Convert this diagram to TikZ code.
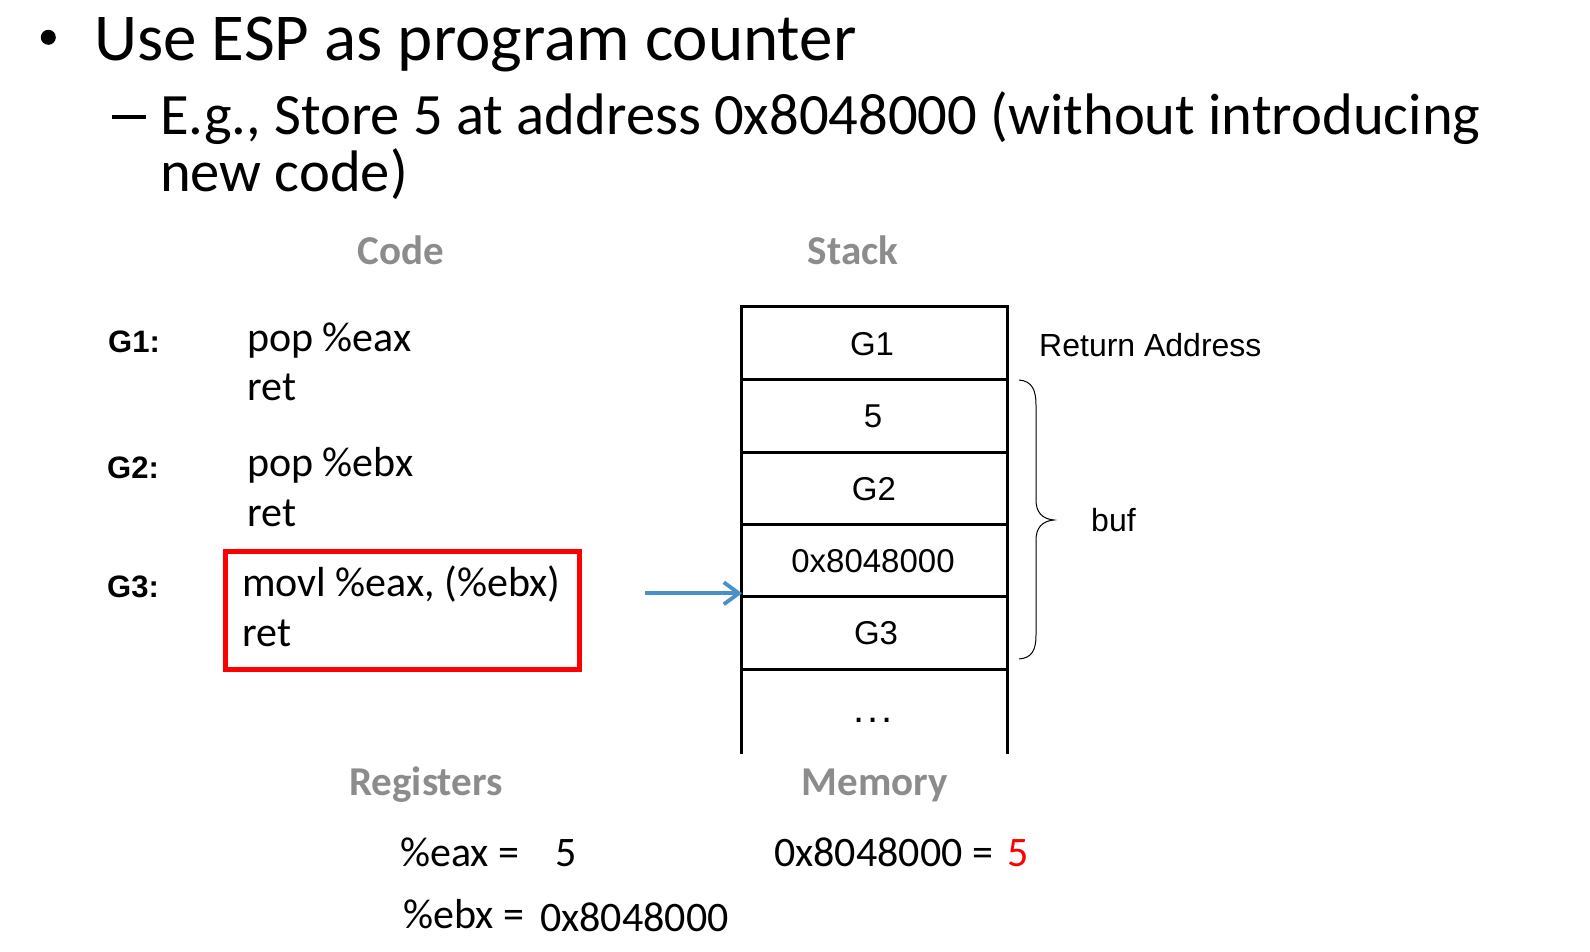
\documentclass[tikz,border=0pt]{standalone}
\usepackage{fontspec}
\setmainfont{Carlito}
\newfontfamily\hv{Liberation Sans}
\usetikzlibrary{arrows.meta}
\definecolor{hdrgray}{RGB}{140,140,140}
\definecolor{arrowblue}{RGB}{74,143,201}
\definecolor{boxred}{RGB}{255,0,0}
\newcommand{\fs}[1]{\fontsize{#1}{#1}\selectfont}
\begin{document}
\begin{tikzpicture}[x=1pt,y=-1pt,
  txt/.style={inner sep=0pt, anchor=base west},
  title/.style={txt, font=\fs{67}},
  sub/.style={txt, font=\fs{58.6}},
  hdr/.style={inner sep=0pt, anchor=base, font=\bfseries\fs{41}, text=hdrgray},
  code/.style={txt, font=\fs{42}},
  glabel/.style={inner sep=0pt, anchor=west, font=\hv\bfseries\fs{31}},
  cell/.style={inner sep=0pt, anchor=center, font=\hv\fs{33}},
  note/.style={inner sep=0pt, anchor=west, font=\hv\fs{32}},
  reg/.style={txt, font=\fs{42}},
  stackline/.style={line width=2.8pt},
]
\useasboundingbox (0,0) rectangle (1590,952);

% bullet and title lines
\node[circle, fill=black, inner sep=0pt, minimum size=15pt] (bullet) at (48.3,37.3) {};
\node[title] (t1) at (94,61) {Use ESP as program counter};
\node[txt] (dash) at (111.7,135) {\rule[16pt]{34pt}{4pt}};
\node[sub] (t2) at (160,135) {E.g., Store 5 at address 0x8048000 (without introducing};
\node[sub] (t3) at (160,191.7) {new code)};

% headers
\node[hdr] (hcode) at (401,265) {Code};
\node[hdr] (hstack) at (853,265) {Stack};
\node[hdr] (hreg) at (426,795) {Registers};
\node[hdr] (hmem) at (875,795) {Memory};

% code
\node[glabel] (g1) at (108,341.7) {G1:};
\node[glabel] (g2) at (107,468) {G2:};
\node[glabel] (g3) at (107,586.7) {G3:};
\node[code] (c1) at (247,351.7) {pop \%eax};
\node[code] (c2) at (247,400) {ret};
\node[code] (c3) at (247,476.7) {pop \%ebx};
\node[code] (c4) at (247,526.7) {ret};
\node[code] (c5) at (242,596.7) {movl \%eax, (\%ebx)};
\node[code] (c6) at (242,646.7) {ret};
\draw[boxred, line width=5pt] (225.5,551) rectangle (579,669);

% stack
\draw[stackline] (741.7,754) -- (741.7,306.7) -- (1007.3,306.7) -- (1007.3,754);
\foreach \yy in {379.3,452.3,524.7,596.7,669.3}
  \draw[stackline] (741.7,\yy) -- (1007.3,\yy);
\node[cell] (s1) at (872,344) {G1};
\node[cell] (s2) at (873,416.5) {5};
\node[cell] (s3) at (874,489) {G2};
\node[cell] (s4) at (873,561) {0x8048000};
\node[cell] (s5) at (876,633) {G3};
\node[inner sep=0pt, anchor=base, font=\hv\fs{40}] (s6) at (873,722) {.\hspace{3pt}.\hspace{3pt}.};

% esp arrow
\coordinate (espfrom) at (645,593.3);
\coordinate (espto) at (742,593.3);
\draw[arrowblue, line width=3.8pt, -{Straight Barb[length=15pt,width=22pt,line width=3.8pt]}] (espfrom) -- (espto);

% notes
\node[note] (ra) at (1039,345) {Return Address};
\node[note] (buf) at (1091,520) {buf};
\draw[line width=1pt] (1019,380) .. controls (1032,381) and (1036,390) .. (1036,405)
  -- (1036,500) .. controls (1036,512) and (1042,519) .. (1054,520)
  .. controls (1042,521) and (1036,528) .. (1036,540)
  -- (1036,635) .. controls (1036,650) and (1032,658) .. (1019,659);

% registers and memory
\node[reg] (eax) at (400,866) {\%eax =};
\node[reg] (eaxv) at (555,866) {5};
\node[reg] (ebx) at (403,928) {\%ebx =};
\node[reg] (ebxv) at (540,931) {0x8048000};
\node[reg] (mem) at (774,866) {0x8048000 =};
\node[reg, text=boxred] (memv) at (1007,866) {5};
\end{tikzpicture}
\end{document}
